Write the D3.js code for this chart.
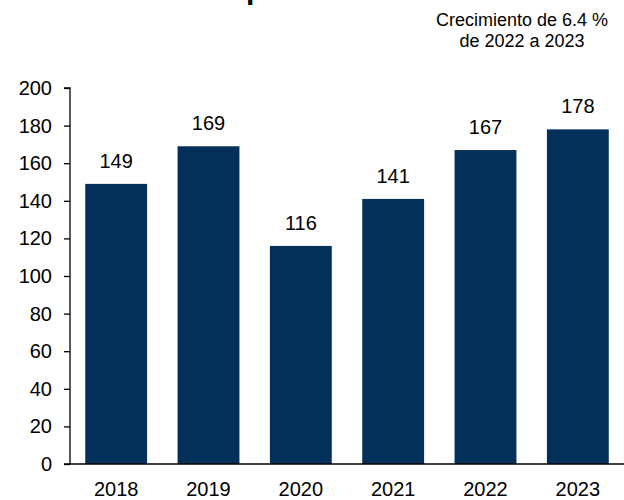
<!DOCTYPE html>
<html lang="es">
<head>
<meta charset="UTF-8">
<title>Crecimiento 2018-2023</title>
<script src="https://d3js.org/d3.v7.min.js"></script>
<style>
  body { margin: 0; background: #fff; }
  text { font-family: "Liberation Sans", Arial, sans-serif; fill: #000; }
</style>
</head>
<body>
<svg width="624" height="500"></svg>
<script>
const years = ["2018", "2019", "2020", "2021", "2022", "2023"];
const values = [149, 169, 116, 141, 167, 178];
const yTicks = [0, 20, 40, 60, 80, 100, 120, 140, 160, 180, 200];
const noteLines = ["Crecimiento de 6.4 %", "de 2022 a 2023"];

const svg = d3.select("svg");
const plotLeft = 70, plotRight = 624, plotTop = 88, plotBottom = 464;

const x = d3.scaleBand()
    .domain(years)
    .range([plotLeft, plotRight])
    .paddingInner(0.33)
    .paddingOuter(0.165);

const y = d3.scaleLinear()
    .domain([0, 200])
    .range([plotBottom, plotTop]);

// title cut off at the top of the picture, only a descender shows
svg.append("text")
    .attr("x", 246)
    .attr("y", -1)
    .attr("font-size", 30)
    .attr("font-weight", "bold")
    .text("p");

// bars
svg.append("g")
    .selectAll("rect")
    .data(values)
    .enter().append("rect")
    .attr("x", (d, i) => x(years[i]))
    .attr("y", d => y(d))
    .attr("width", x.bandwidth())
    .attr("height", d => y(0) - y(d))
    .attr("fill", "#023059");

// value labels
svg.append("g")
    .selectAll("text")
    .data(values)
    .enter().append("text")
    .attr("x", (d, i) => x(years[i]) + x.bandwidth() / 2)
    .attr("y", d => y(d) - 16)
    .attr("text-anchor", "middle")
    .attr("font-size", 20)
    .text(d => d);

// y axis
const yAxis = svg.append("g")
    .attr("transform", `translate(${plotLeft},0)`)
    .call(d3.axisLeft(y).tickValues(yTicks).tickSize(6).tickPadding(12));
yAxis.select(".domain").attr("stroke-width", 1.3).attr("d", `M-6,${plotTop}H0V${plotBottom}`);
yAxis.selectAll(".tick line").attr("stroke-width", 1.3);
yAxis.selectAll(".tick text")
    .attr("font-size", 20)
    .attr("font-family", "Liberation Sans, Arial, sans-serif")
    .attr("fill", "#000");

// x axis
const xAxis = svg.append("g")
    .attr("transform", `translate(0,${plotBottom})`)
    .call(d3.axisBottom(x).tickSize(0).tickPadding(18));
xAxis.select(".domain").attr("stroke-width", 1.3).attr("d", `M${plotLeft - 6},0H${plotRight}`);
xAxis.selectAll(".tick text")
    .attr("font-size", 20)
    .attr("font-family", "Liberation Sans, Arial, sans-serif")
    .attr("fill", "#000");

// note in the top right corner
svg.append("text")
    .attr("text-anchor", "middle")
    .attr("font-size", 18)
    .selectAll("tspan")
    .data(noteLines)
    .enter().append("tspan")
    .attr("x", 522)
    .attr("y", (d, i) => 26 + i * 21)
    .text(d => d);
</script>
</body>
</html>
